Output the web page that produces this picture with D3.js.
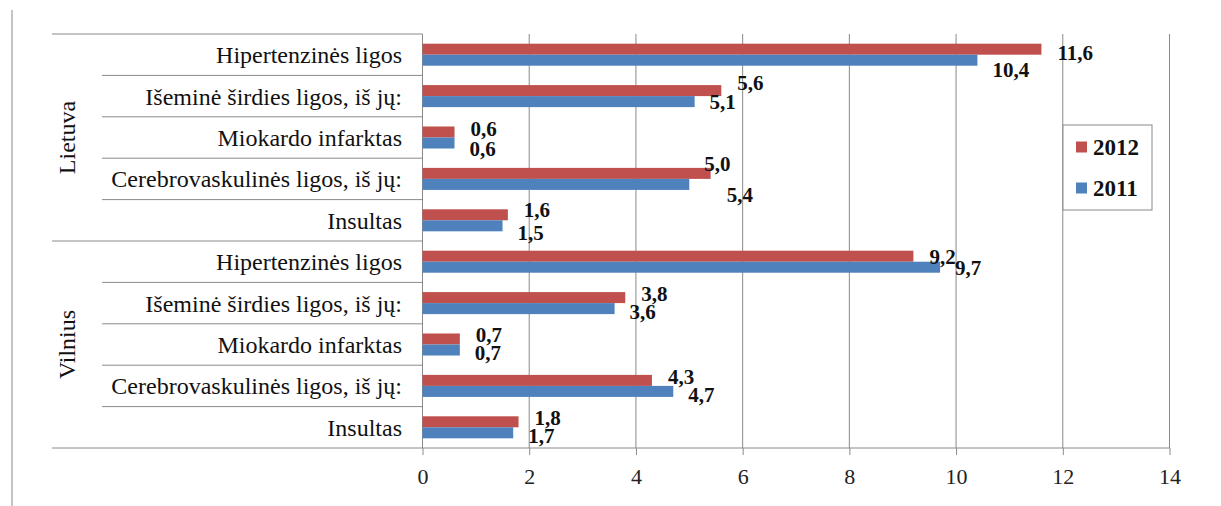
<!DOCTYPE html>
<html>
<head>
<meta charset="utf-8">
<script src="https://cdn.jsdelivr.net/npm/d3@7"></script>
<style>
  body { margin: 0; background: #fff; }
  svg { display: block; font-family: "Liberation Serif", "Times New Roman", serif; }
  .grid line { stroke: #8a8a8a; stroke-width: 1; }
  .axis path { display: none; }
  .axis line { stroke: #8a8a8a; }
  .axis text { font-size: 22px; fill: #222; font-family: "Liberation Serif", serif; }
</style>
</head>
<body>
<div id="chart"></div>
<script>
// chart data
const groups = ["Lietuva", "Vilnius"];
const categories = [
  "Hipertenzinės ligos",
  "Išeminė širdies ligos, iš jų:",
  "Miokardo infarktas",
  "Cerebrovaskulinės ligos, iš jų:",
  "Insultas"
];
const series = ["2012", "2011"];
const values2012 = [11.6, 5.6, 0.6, 5.4, 1.6, 9.2, 3.8, 0.7, 4.3, 1.8];
const values2011 = [10.4, 5.1, 0.6, 5.0, 1.5, 9.7, 3.6, 0.7, 4.7, 1.7];
const xTicks = [0, 2, 4, 6, 8, 10, 12, 14];

const colors = { "2012": "#C0504D", "2011": "#4F81BD" };

// build rows
const rows = [];
groups.forEach((g, gi) => {
  categories.forEach((c, ci) => {
    const i = gi * categories.length + ci;
    rows.push({ key: g + "|" + c, group: g, cat: c, idx: ci,
      vals: { "2012": values2012[i], "2011": values2011[i] } });
  });
});

const config = {
  width: 1221, height: 506,
  plotLeft: 422.5, plotRight: 1169.5,
  plotTop: 34, plotBottom: 448,
  groupLineX: 52, catLineX: 102, catLabelX: 402, groupLabelX: 67
};

const svg = d3.select("#chart").append("svg")
  .attr("width", config.width)
  .attr("height", config.height);

svg.append("rect").attr("width", config.width).attr("height", config.height).attr("fill", "#fff");

// left border of chart area
svg.append("line")
  .attr("x1", 12).attr("x2", 12).attr("y1", 10).attr("y2", config.height)
  .attr("stroke", "#8a8a8a");

const xScale = d3.scaleLinear().domain([0, 14]).range([config.plotLeft, config.plotRight]);
const yScale = d3.scaleBand().domain(rows.map(d => d.key))
  .range([config.plotTop, config.plotBottom]).paddingInner(0).paddingOuter(0);
const ySub = d3.scaleBand().domain(series)
  .range([0, yScale.bandwidth()]).paddingInner(0).paddingOuter(0.88);

// vertical gridlines
svg.append("g").attr("class", "grid")
  .selectAll("line").data(xTicks).join("line")
  .attr("x1", d => xScale(d)).attr("x2", d => xScale(d))
  .attr("y1", config.plotTop).attr("y2", config.plotBottom);

// category separators
const bounds = rows.map(d => yScale(d.key)).concat([config.plotBottom]);
svg.append("g").attr("class", "grid")
  .selectAll("line").data(bounds).join("line")
  .attr("x1", (d, i) => (i % categories.length === 0) ? config.groupLineX : config.catLineX)
  .attr("x2", (d, i) => i === bounds.length - 1 ? config.plotRight : config.plotLeft)
  .attr("y1", d => d).attr("y2", d => d);

// x axis
const xAxis = d3.axisBottom(xScale).tickValues(xTicks).tickSizeInner(7).tickSizeOuter(0).tickPadding(13);
svg.append("g").attr("class", "axis")
  .attr("transform", `translate(0,${config.plotBottom})`)
  .call(xAxis);

// category labels
svg.append("g").selectAll("text").data(rows).join("text")
  .attr("x", config.catLabelX)
  .attr("y", d => yScale(d.key) + yScale.bandwidth() / 2)
  .attr("dy", "0.35em")
  .attr("text-anchor", "end")
  .attr("font-size", 24)
  .attr("fill", "#111")
  .text(d => d.cat);

// group labels
groups.forEach(g => {
  const gRows = rows.filter(r => r.group === g);
  const y0 = yScale(gRows[0].key);
  const y1 = yScale(gRows[gRows.length - 1].key) + yScale.bandwidth();
  svg.append("text")
    .attr("transform", `translate(${config.groupLabelX},${(y0 + y1) / 2}) rotate(-90)`)
    .attr("dy", "0.35em")
    .attr("text-anchor", "middle")
    .attr("font-size", 24)
    .attr("fill", "#111")
    .text(g);
});

// bars
const barData = [];
rows.forEach(r => series.forEach(s => barData.push({ row: r, s: s, v: r.vals[s] })));

svg.append("g").selectAll("rect").data(barData).join("rect")
  .attr("x", xScale(0))
  .attr("y", d => yScale(d.row.key) + ySub(d.s))
  .attr("width", d => xScale(d.v) - xScale(0))
  .attr("height", ySub.bandwidth())
  .attr("fill", d => colors[d.s]);

// data labels (a few were moved by hand in the original)
const fmt = v => d3.format(".1f")(v).replace(".", ",");
const labelShift = { "2012": { dx: 16, dy: -4 }, "2011": { dx: 15, dy: 3 } };
const labelNudge = {
  "Lietuva|Hipertenzinės ligos": { "2012": 3, "2011": 9 },
  "Lietuva|Išeminė širdies ligos, iš jų:": { "2012": -8, "2011": 0 },
  "Lietuva|Miokardo infarktas": { "2012": -3, "2011": 6 },
  "Lietuva|Cerebrovaskulinės ligos, iš jų:": { "2012": 21, "2011": -21 },
  "Lietuva|Insultas": { "2012": -5, "2011": 7 },
  "Vilnius|Hipertenzinės ligos": { "2012": 0, "2011": 0 }
};

svg.append("g").selectAll("text").data(barData).join("text")
  .attr("x", d => xScale(d.v) + labelShift[d.s].dx)
  .attr("y", d => {
    const n = labelNudge[d.row.key];
    const dy = n ? n[d.s] : labelShift[d.s].dy;
    return yScale(d.row.key) + ySub(d.s) + ySub.bandwidth() / 2 + dy;
  })
  .attr("dy", "0.35em")
  .attr("font-size", 21)
  .attr("font-weight", "bold")
  .attr("fill", "#111")
  .text(d => fmt(d.v));

// legend
const legend = svg.append("g").attr("transform", "translate(1063,125)");
legend.append("rect")
  .attr("width", 89).attr("height", 85)
  .attr("fill", "#fff").attr("stroke", "#8a8a8a");
const items = legend.selectAll("g.item").data(series).join("g")
  .attr("class", "item")
  .attr("transform", (d, i) => `translate(13,${22 + i * 41})`);
items.append("rect")
  .attr("y", -5.5).attr("width", 11).attr("height", 11)
  .attr("fill", d => colors[d]);
items.append("text")
  .attr("x", 17).attr("dy", "0.35em")
  .attr("font-size", 23).attr("font-weight", "bold")
  .attr("fill", "#111")
  .text(d => d);
</script>
</body>
</html>
